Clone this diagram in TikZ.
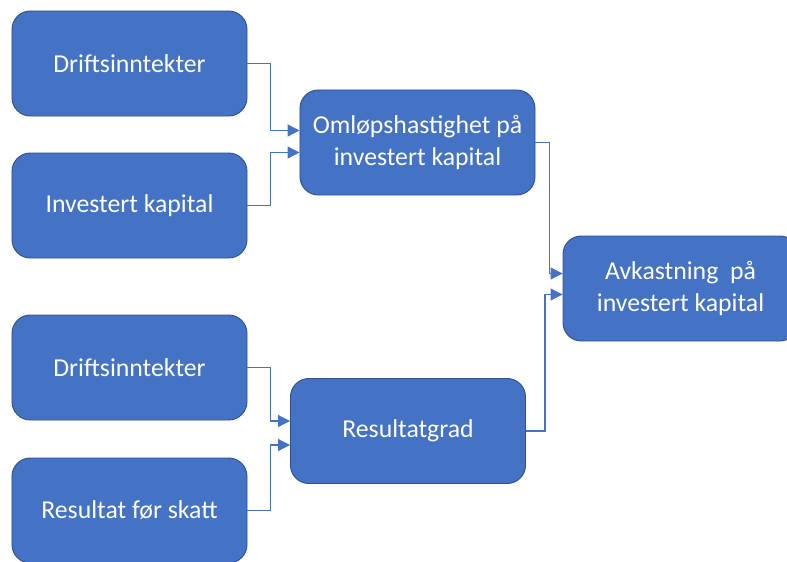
\documentclass[tikz,border=0pt]{standalone}
\usepackage{fontspec}
\setmainfont{Carlito}
\usetikzlibrary{arrows.meta,calc}
\definecolor{boxblue}{HTML}{4472C4}
\definecolor{boxedge}{HTML}{2F528F}
\begin{document}
\begin{tikzpicture}[x=0.03cm,y=-0.03cm,
  every node/.style={font=\fontsize{22}{27.5}\selectfont},
  blok/.style={draw=boxedge,line width=0.8pt,fill=boxblue,text=white,rounded corners=0.55cm,
    minimum width=7.05cm,minimum height=3.15cm,inner sep=0pt,align=center},
  pil/.style={draw=boxblue,line width=1pt,-{Triangle[length=3.6mm,width=3.6mm]}}]
\useasboundingbox (0,0) rectangle (787,561);
\node[blok] (drift1) at (129.5,63.5) {Driftsinntekter};
\node[blok] (invkap) at (129.5,205.5) {Investert kapital};
\node[blok] (omlop) at (417.5,142.5) {Omløpshastighet på\\investert kapital};
\node[blok] (avk) at (680.5,288.5) {Avkastning~ på\\investert kapital};
\node[blok] (drift2) at (129.5,367.5) {Driftsinntekter};
\node[blok] (resskatt) at (129.5,510.5) {Resultat før skatt};
\node[blok] (resgrad) at (408,431) {Resultatgrad};
% innganger
\coordinate (omlop-a) at ($(omlop.west)+(0,-12)$);
\coordinate (omlop-b) at ($(omlop.west)+(0,10)$);
\coordinate (avk-a) at ($(avk.west)+(0,-15)$);
\coordinate (avk-b) at ($(avk.west)+(0,6)$);
\coordinate (resgrad-a) at ($(resgrad.west)+(0,-10)$);
\coordinate (resgrad-b) at ($(resgrad.west)+(0,14)$);
\draw[pil] (drift1.east) -- ++(23,0) |- (omlop-a);
\draw[pil] (invkap.east) -- ++(23,0) |- (omlop-b);
\draw[pil] (omlop.east) -- ++(14,0) |- (avk-a);
\draw[pil] (resgrad.east) -- ++(19,0) |- (avk-b);
\draw[pil] (drift2.east) -- ++(23,0) |- (resgrad-a);
\draw[pil] (resskatt.east) -- ++(23,0) |- (resgrad-b);
\end{tikzpicture}
\end{document}
